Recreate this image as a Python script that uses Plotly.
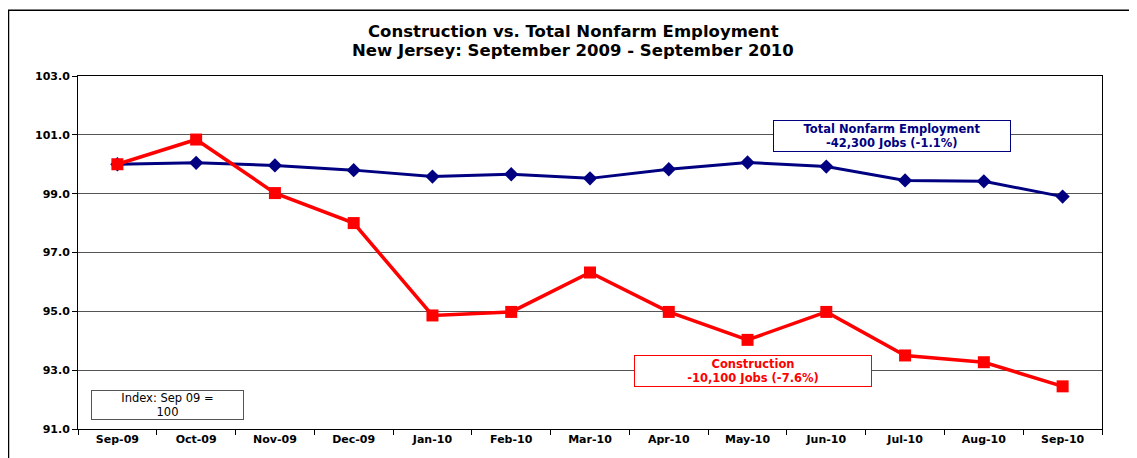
import plotly.graph_objects as go

months = ["Sep-09", "Oct-09", "Nov-09", "Dec-09", "Jan-10", "Feb-10", "Mar-10",
          "Apr-10", "May-10", "Jun-10", "Jul-10", "Aug-10", "Sep-10"]
nonfarm = [100.0, 100.05, 99.96, 99.8, 99.58, 99.66, 99.52, 99.83, 100.06, 99.92, 99.45, 99.42, 98.9]
construction = [100.0, 100.84, 99.02, 98.0, 94.86, 94.98, 96.32, 94.98, 94.03, 94.98, 93.5, 93.27, 92.45]
y_ticks = [91.0, 93.0, 95.0, 97.0, 99.0, 101.0, 103.0]

OFF = 8  # page body margin
W, H = 1137 - OFF, 458 - OFF
# plot area in page coordinates
PL, PR, PT, PB = 78, 1102, 76, 431
L, T = PL - OFF, PT - OFF
R = W - (PR - OFF)
B = H - (PB - OFF)

fig = go.Figure()
fig.add_trace(go.Scatter(x=months, y=nonfarm, mode="lines+markers", name="Total Nonfarm",
                         line=dict(color="#000080", width=3),
                         marker=dict(symbol="diamond", size=11, color="#000080")))
fig.add_trace(go.Scatter(x=months, y=construction, mode="lines+markers", name="Construction",
                         line=dict(color="#FF0000", width=3.5),
                         marker=dict(symbol="square", size=12, color="#FF0000")))

font = "DejaVu Sans, Arial, sans-serif"
tickfont = dict(size=11, family=font, color="black", weight="bold")
fig.update_layout(
    width=W, height=H,
    margin=dict(l=L, r=R, t=T, b=B),
    paper_bgcolor="white", plot_bgcolor="white",
    showlegend=False,
    font=dict(family=font, color="black"),
    xaxis=dict(type="category", categoryorder="array", categoryarray=months,
               range=[-0.5, 12.5], showgrid=False, showline=True, linecolor="black", linewidth=1,
               mirror=True, ticks="outside", tickson="boundaries", ticklen=5, tickcolor="black",
               tickfont=tickfont),
    yaxis=dict(range=[91, 103], tickvals=y_ticks, ticktext=[f"{v:.1f}" for v in y_ticks],
               showgrid=True, gridcolor="#555555", gridwidth=1, zeroline=False,
               showline=True, linecolor="black", linewidth=1, mirror=True,
               ticks="outside", ticklen=5, tickcolor="black",
               tickfont=tickfont),
)

pw = W - L - R
ph = H - T - B
def px(x):
    return (x - OFF - L) / pw
def py(y):
    return (H - B - (y - OFF)) / ph

# outer frame
fig.add_shape(type="rect", xref="paper", yref="paper",
              x0=px(8.5), x1=px(1180), y0=py(475), y1=py(10),
              line=dict(color="black", width=1.5), fillcolor="rgba(0,0,0,0)", layer="below")

# title lines
for txt, yy in [("Construction vs. Total Nonfarm Employment", 31),
                ("New Jersey: September 2009 - September 2010", 50)]:
    fig.add_annotation(xref="paper", yref="paper", x=px(573), y=py(yy),
                       xanchor="center", yanchor="middle",
                       text=f"<b>{txt}</b>", showarrow=False,
                       font=dict(size=16.5, family=font, color="black"))

fig.add_annotation(xref="paper", yref="paper", x=px(892), y=py(136),
                   xanchor="center", yanchor="middle",
                   text="<b>Total Nonfarm Employment<br>-42,300 Jobs (-1.1%)</b>",
                   showarrow=False, font=dict(size=11.5, color="#000080", family=font),
                   bgcolor="white", bordercolor="#000080", borderwidth=1,
                   width=232, height=26, borderpad=2)
fig.add_annotation(xref="paper", yref="paper", x=px(753), y=py(372.5),
                   xanchor="center", yanchor="middle",
                   text="<b>Construction<br>-10,100 Jobs (-7.6%)</b>",
                   showarrow=False, font=dict(size=11.5, color="#FF0000", family=font),
                   bgcolor="white", bordercolor="#FF0000", borderwidth=1,
                   width=232, height=26, borderpad=2)
fig.add_annotation(xref="paper", yref="paper", x=px(167.5), y=py(407),
                   xanchor="center", yanchor="middle",
                   text="Index: Sep 09 =<br>100",
                   showarrow=False, font=dict(size=11.5, color="black", family=font),
                   bgcolor="white", bordercolor="#555", borderwidth=1,
                   width=149, height=26, borderpad=1)

fig.write_html("out.html")
